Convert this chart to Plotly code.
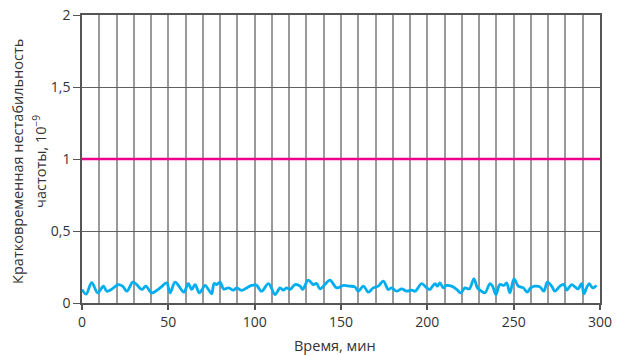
import plotly.graph_objects as go

# Time (min) and short-term frequency instability (x1e-9)
time_min = [0, 2.4, 5.6, 9.1, 12.4, 14.3, 17, 21, 23.5, 26, 29.4, 31.7, 34.6, 37, 40.4,
            45.2, 49, 51, 53.9, 56.8, 59, 61.6, 63.5, 65.5, 68, 71.3, 73.2, 75.1, 76.5,
            78, 80, 82, 85, 87.7, 89.6, 92.5, 95.4, 98.3, 101, 104, 108, 111.8, 114.7,
            116.6, 118.5, 120.5, 123.4, 126.3, 127.8, 131, 134, 135.9, 137.8, 140.7,
            143.6, 147.5, 151.4, 155, 158, 160, 163, 165.8, 168.7, 171.6, 174.5, 177.4,
            179.3, 182.2, 185.1, 188, 191, 193, 196.7, 199.6, 201.5, 204.4, 205.8, 207.3,
            209.2, 211, 214, 217, 219.3, 221.8, 224.3, 227, 229, 231.4, 233.4, 236.3,
            237.8, 239.7, 242, 244.4, 245.9, 247.8, 250.2, 252.7, 255.6, 257.9, 259.8,
            262.3, 265.2, 267.5, 269.5, 272, 273.9, 276.8, 279.1, 280.7, 283.6, 285.5,
            287.4, 289.3, 290.7, 292.2, 293.8, 295.7, 298]
instability = [0.094, 0.062, 0.142, 0.071, 0.117, 0.082, 0.094, 0.128, 0.117, 0.082, 0.145,
               0.128, 0.094, 0.117, 0.071, 0.105, 0.140, 0.071, 0.145, 0.105, 0.075, 0.135,
               0.094, 0.128, 0.071, 0.122, 0.094, 0.064, 0.135, 0.128, 0.145, 0.098, 0.105,
               0.089, 0.105, 0.087, 0.105, 0.122, 0.124, 0.082, 0.135, 0.059, 0.105, 0.089,
               0.105, 0.094, 0.128, 0.117, 0.094, 0.159, 0.128, 0.135, 0.098, 0.128, 0.159,
               0.105, 0.122, 0.117, 0.112, 0.082, 0.117, 0.075, 0.105, 0.117, 0.152, 0.094,
               0.105, 0.082, 0.098, 0.082, 0.089, 0.082, 0.135, 0.105, 0.094, 0.135, 0.117,
               0.140, 0.105, 0.122, 0.117, 0.094, 0.071, 0.105, 0.098, 0.168, 0.105, 0.082,
               0.071, 0.135, 0.117, 0.059, 0.128, 0.122, 0.140, 0.071, 0.168, 0.117, 0.105,
               0.075, 0.105, 0.117, 0.112, 0.082, 0.145, 0.117, 0.082, 0.117, 0.128, 0.089,
               0.128, 0.112, 0.098, 0.135, 0.064, 0.105, 0.135, 0.105, 0.122]

limit_x = [0, 300]
limit_y = [1, 1]

x_ticks = [0, 50, 100, 150, 200, 250, 300]
y_ticks = [0, 0.5, 1, 1.5, 2]

x_title = "Время, мин"
y_title_line1 = "Кратковременная нестабильность"
y_title_line2 = "частоты, 10<sup>−9</sup>"

FONT = "Open Sans"
TXT = "#333333"

# the page body adds an 8 px offset; the figure is sized to fill the rest of the window
fig = go.Figure()
fig.add_trace(go.Scatter(x=limit_x, y=limit_y, mode="lines",
                         line=dict(color="#ec008c", width=2.5), showlegend=False))
fig.add_trace(go.Scatter(x=time_min, y=instability, mode="lines",
                         line=dict(color="#00aeef", width=2.8, shape="spline", smoothing=1.0),
                         showlegend=False))

fig.update_layout(
    width=621, height=347,
    margin=dict(l=74, r=29, t=7, b=52, autoexpand=False),
    paper_bgcolor="white", plot_bgcolor="white",
    separators=", ",
    font=dict(family=FONT, size=14, color=TXT),
    xaxis=dict(
        range=[0, 300], tickvals=x_ticks, automargin=False,
        ticklabeloverflow="allow",
        showgrid=True, gridcolor="#9a9a9a", gridwidth=1.5,
        minor=dict(dtick=10, showgrid=True, gridcolor="#9a9a9a", gridwidth=1.5),
        showline=True, linecolor="#555555", linewidth=1.5, mirror=True,
        ticks="outside", ticklen=5, tickcolor="#555555", tickwidth=1.5,
        zeroline=False,
    ),
    yaxis=dict(
        range=[0, 2], tickvals=y_ticks, automargin=False,
        ticklabeloverflow="allow",
        showgrid=True, gridcolor="#606060", gridwidth=1,
        showline=True, linecolor="#555555", linewidth=1.5, mirror=True,
        ticks="outside", ticklen=7, tickcolor="#555555", tickwidth=1,
        zeroline=False,
    ),
    annotations=[
        dict(text=x_title, xref="paper", yref="paper", x=0.488, y=-0.146,
             xanchor="center", yanchor="middle", showarrow=False,
             font=dict(size=14.5, color=TXT)),
        dict(text=y_title_line1, xref="paper", yref="paper", x=(18 - 82) / 518, y=0.49,
             xanchor="center", yanchor="middle", textangle=-90, showarrow=False,
             font=dict(size=14.5, color=TXT)),
        dict(text=y_title_line2, xref="paper", yref="paper", x=(40 - 82) / 518, y=0.49,
             xanchor="center", yanchor="middle", textangle=-90, showarrow=False,
             font=dict(size=14.5, color=TXT)),
    ],
)

fig.write_html("out.html")
